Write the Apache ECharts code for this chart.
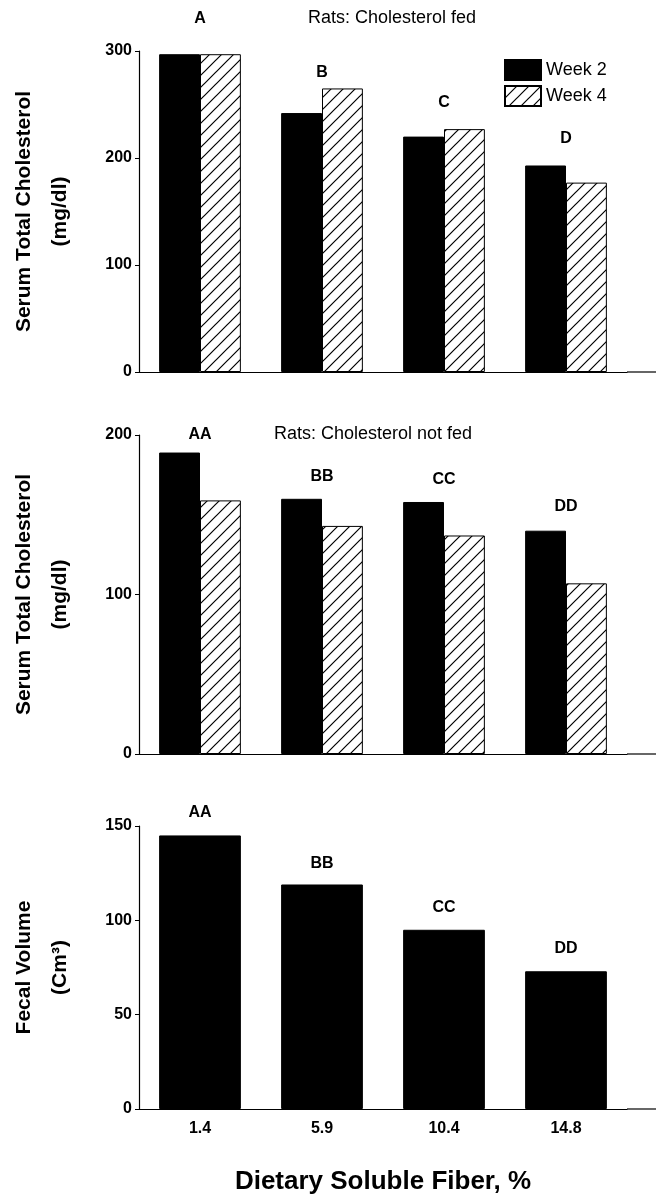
<!DOCTYPE html>
<html><head><meta charset="utf-8">
<script src="https://cdn.jsdelivr.net/npm/echarts@6/dist/echarts.min.js"></script>
<style>html,body{margin:0;padding:0;background:#fff}#c{width:656px;height:1198px}</style>
</head><body><div id="c"></div>
<script>
// ---- data ----
const categories = ['1.4', '5.9', '10.4', '14.8'];
const fedWeek2 = [297, 242, 220, 193];
const fedWeek4 = [297, 265, 227, 177];
const notFedWeek2 = [189, 160, 158, 140];
const notFedWeek4 = [159, 143, 137, 107];
const fecalVolume = [145, 119, 95, 73];
const fedLetters = ['A', 'B', 'C', 'D'];
const fedLetterLevels = [330, 280, 252, 218];
const notFedLetters = ['AA', 'BB', 'CC', 'DD'];
const notFedLetterLevels = [200, 174, 172, 155];
const fecalLetters = ['AA', 'BB', 'CC', 'DD'];
const fecalLetterLevels = [157, 130, 107, 85];
const seriesNames = ['Week 2', 'Week 4'];

// ---- hatch pattern ----
function makeHatch() {
  const c = document.createElement('canvas');
  c.width = 12; c.height = 12;
  const g = c.getContext('2d');
  g.strokeStyle = '#000'; g.lineWidth = 1.2;
  g.beginPath();
  g.moveTo(-1, 13); g.lineTo(13, -1);
  g.moveTo(-7, 7); g.lineTo(7, -7);
  g.moveTo(5, 19); g.lineTo(19, 5);
  g.stroke();
  return c;
}
const hatch = { image: makeHatch(), repeat: 'repeat' };

const FONT = 'Liberation Sans, Arial, sans-serif';
const chart = echarts.init(document.getElementById('c'), null, { renderer: 'canvas' });

const grids = [
  { left: 139, top: 51, width: 488, height: 321, containLabel: false, outerBoundsMode: 'none' },
  { left: 139, top: 435, width: 488, height: 319, containLabel: false, outerBoundsMode: 'none' },
  { left: 139, top: 826, width: 488, height: 283, containLabel: false, outerBoundsMode: 'none' }
];

function xAx(i, showLabel) {
  return {
    type: 'category', gridIndex: i, data: categories,
    axisLine: { lineStyle: { color: '#000', width: 1.2 } },
    axisTick: { show: false },
    axisLabel: { show: showLabel, color: '#000', fontFamily: FONT, fontSize: 16, fontWeight: 'bold', margin: 12 },
    name: showLabel ? 'Dietary Soluble Fiber, %' : '',
    nameLocation: 'middle', nameGap: 60,
    nameTextStyle: { color: '#000', fontFamily: FONT, fontSize: 26, fontWeight: 'bold' }
  };
}
function yAx(i, max, interval, name) {
  return {
    type: 'value', gridIndex: i, min: 0, max: max, interval: interval,
    splitLine: { show: false },
    axisLine: { show: true, lineStyle: { color: '#000', width: 1.2 } },
    axisTick: { show: true, length: 4, lineStyle: { color: '#000' } },
    axisLabel: { color: '#000', fontFamily: FONT, fontSize: 16, fontWeight: 'bold', margin: 7 },
    name: name, nameLocation: 'middle', nameRotate: 90, nameGap: 61,
    nameTextStyle: { color: '#000', fontFamily: FONT, fontSize: 21, fontWeight: 'bold', lineHeight: 36 }
  };
}
function letterSeries(i, letters, levels) {
  return {
    type: 'scatter', xAxisIndex: i, yAxisIndex: i, symbolSize: 0, clip: false, silent: true,
    itemStyle: { opacity: 1 },
    data: letters.map((t, k) => ({ name: t, value: [k, levels[k]] })),
    label: { show: true, position: 'inside', formatter: p => p.name, color: '#000', opacity: 1,
      fontFamily: FONT, fontSize: 16, fontWeight: 'bold' }
  };
}
const barBase = { barGap: '0%', barCategoryGap: '33%' };

chart.setOption({
  animation: false,
  grid: grids,
  xAxis: [xAx(0, false), xAx(1, false), xAx(2, true)],
  yAxis: [
    yAx(0, 300, 100, 'Serum Total Cholesterol\n(mg/dl)'),
    yAx(1, 200, 100, 'Serum Total Cholesterol\n(mg/dl)'),
    yAx(2, 150, 50, 'Fecal Volume\n(Cm³)')
  ],
  legend: {
    data: seriesNames, orient: 'vertical', left: 504, top: 59, padding: 0,
    icon: 'rect', itemWidth: 36, itemHeight: 20, itemGap: 4,
    textStyle: { color: '#000', fontFamily: FONT, fontSize: 18 },
    selectedMode: false
  },
  series: [
    Object.assign({ type: 'bar', name: seriesNames[0], xAxisIndex: 0, yAxisIndex: 0, data: fedWeek2,
      itemStyle: { color: '#000', borderColor: '#000', borderWidth: 1 } }, barBase),
    Object.assign({ type: 'bar', name: seriesNames[1], xAxisIndex: 0, yAxisIndex: 0, data: fedWeek4,
      itemStyle: { color: hatch, borderColor: '#000', borderWidth: 1 } }, barBase),
    Object.assign({ type: 'bar', name: seriesNames[0], xAxisIndex: 1, yAxisIndex: 1, data: notFedWeek2,
      itemStyle: { color: '#000', borderColor: '#000', borderWidth: 1 } }, barBase),
    Object.assign({ type: 'bar', name: seriesNames[1], xAxisIndex: 1, yAxisIndex: 1, data: notFedWeek4,
      itemStyle: { color: hatch, borderColor: '#000', borderWidth: 1 } }, barBase),
    Object.assign({ type: 'bar', name: 'Fecal Volume', xAxisIndex: 2, yAxisIndex: 2, data: fecalVolume,
      itemStyle: { color: '#000', borderColor: '#000', borderWidth: 1 } }, barBase),
    letterSeries(0, fedLetters, fedLetterLevels),
    letterSeries(1, notFedLetters, notFedLetterLevels),
    letterSeries(2, fecalLetters, fecalLetterLevels)
  ],
  graphic: [
    { type: 'text', left: 308, top: 9, style: { text: 'Rats: Cholesterol fed', fill: '#000', font: '18px ' + FONT } },
    { type: 'text', left: 274, top: 425, style: { text: 'Rats: Cholesterol not fed', fill: '#000', font: '18px ' + FONT } },
    { type: 'line', shape: { x1: 627, y1: 372, x2: 656, y2: 372 }, style: { stroke: '#000', lineWidth: 1.2 } },
    { type: 'line', shape: { x1: 627, y1: 754, x2: 656, y2: 754 }, style: { stroke: '#000', lineWidth: 1.2 } },
    { type: 'line', shape: { x1: 627, y1: 1109, x2: 656, y2: 1109 }, style: { stroke: '#000', lineWidth: 1.2 } }
  ]
});
</script></body></html>
